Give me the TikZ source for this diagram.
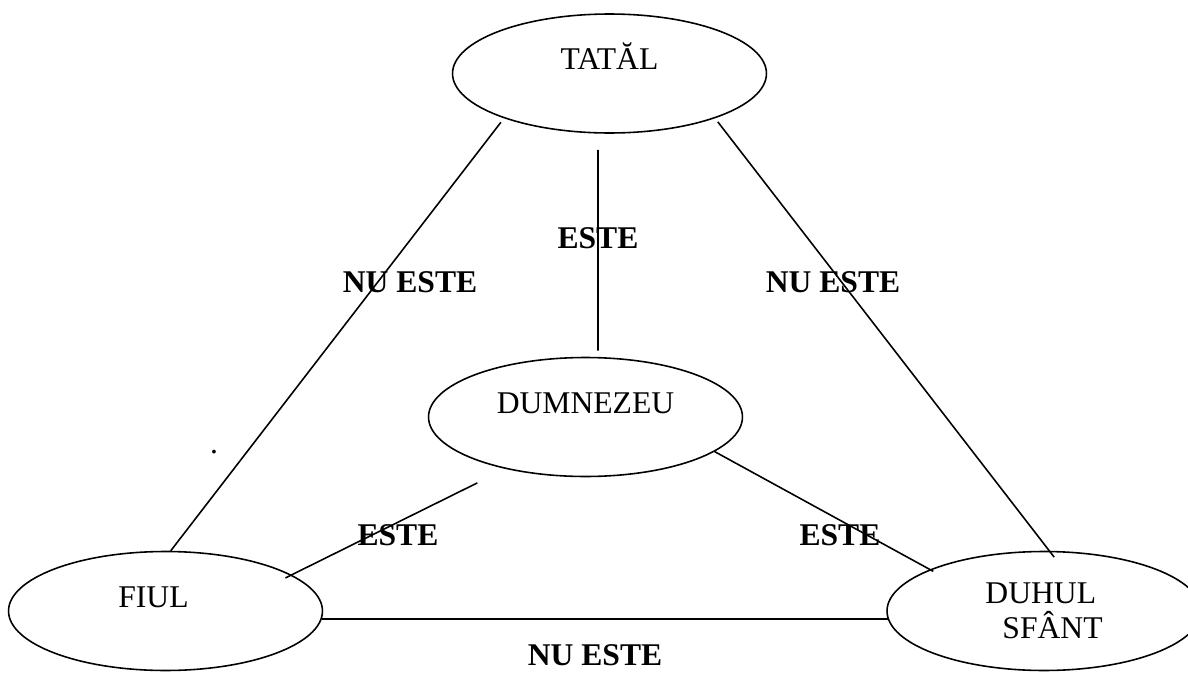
\documentclass[tikz,border=0pt]{standalone}
\usepackage{fontspec}
\setmainfont{Liberation Serif}
\usetikzlibrary{shapes.geometric}
\newcommand{\marime}{\fontsize{18pt}{20pt}\selectfont}
\tikzstyle{Persoana}=[ellipse, draw, line width=0.9pt, minimum width=6.28cm, minimum height=2.38cm, inner sep=2pt, text height=0.45cm, text depth=0.61cm, font=\marime]
\tikzstyle{Relatie}=[font=\marime\bfseries, inner sep=0.5pt]
\tikzstyle{Linie}=[line width=0.9pt]

\begin{document}
\begin{tikzpicture}[x=0.02cm, y=-0.02cm]
			\useasboundingbox (0,0) rectangle (1188,673);
			\clip (0,0) rectangle (1188,673);

			%Noduri
			\node[Persoana]	(tatal)		at (609.5,73.5)	{TATĂL};
			\node[Persoana]	(dumnezeu)	at (585.5,417)	{DUMNEZEU};
			\node[Persoana]	(fiul)		at (165.5,611)	{FIUL\kern0.48cm};
			\node[Persoana, text height={}, text depth={}, align=left]	(duhul_sfant)	at (1044,611)	{DUHUL\\\hspace*{0.34cm}SFÂNT};

			%Etichete
			\node[Relatie]	(este_sus)		at (598,238)	{ESTE};
			\node[Relatie]	(nu_este_st)	at (410,282)	{NU ESTE};
			\node[Relatie]	(nu_este_dr)	at (833,282)	{NU ESTE};
			\node[Relatie]	(este_st)		at (398,535)	{ESTE};
			\node[Relatie]	(este_dr)		at (840,535)	{ESTE};
			\node[Relatie]	(nu_este_jos)	at (595,655)	{NU ESTE};
			\node[font=\marime, inner sep=0.5pt]	(punct)	at (214,452)	{.};

			%Linii
			\draw[Linie, shorten <=0.1cm] (tatal.203) -- (fiul.85);
			\draw[Linie, shorten <=0.09cm, shorten >=-0.16cm] (tatal.337) -- (duhul_sfant.85);
			\draw[Linie] ([xshift=-0.23cm, yshift=-0.32cm]tatal.south) -- ([xshift=0.25cm, yshift=0.12cm]dumnezeu.north);
			\draw[Linie, shorten <=0.63cm, shorten >=-0.14cm] (dumnezeu.213) -- (fiul.16);
			\draw[Linie, shorten >=-0.08cm] (dumnezeu.345) -- (duhul_sfant.160);
			\draw[Linie] (fiul.357) -- (duhul_sfant.183);

		\end{tikzpicture}
\end{document}
